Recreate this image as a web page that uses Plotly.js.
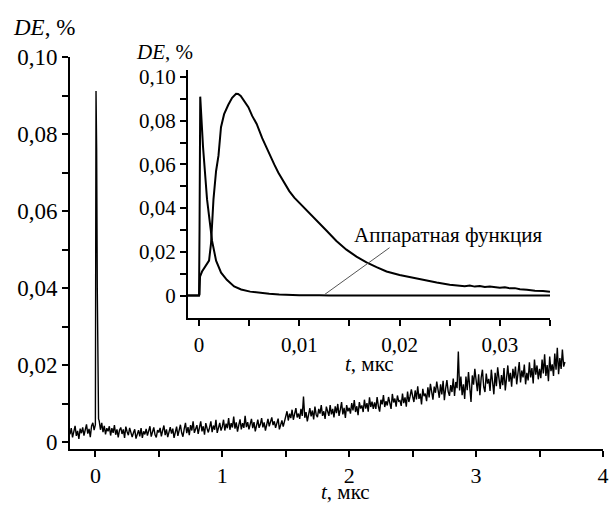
<!DOCTYPE html>
<html>
<head>
<meta charset="utf-8">
<script src="https://cdn.plot.ly/plotly-3.0.1.min.js"></script>
<style>
#chart text { font-family: 'Liberation Serif', 'Times New Roman', serif !important; }
</style>
</head>
<body style="margin:0">
<div id="chart" style="width:609px;height:505px"></div>
<script>
// ---- Main trace: DE(t), t in µs ----
const mainT = [
-0.20,-0.19,-0.18,-0.17,-0.16,-0.15,-0.14,-0.13,-0.12,-0.11,
-0.10,-0.09,-0.08,-0.07,-0.06,-0.05,-0.04,-0.03,-0.02,-0.01,
0.00,0.005,0.01,0.015,0.02,0.025,
0.03,0.04,0.05,0.06,0.07,0.08,0.09,
0.10,0.11,0.12,0.13,0.14,0.15,0.16,0.17,0.18,0.19,
0.20,0.21,0.22,0.23,0.24,0.25,0.26,0.27,0.28,0.29,
0.30,0.31,0.32,0.33,0.34,0.35,0.36,0.37,0.38,0.39,
0.40,0.41,0.42,0.43,0.44,0.45,0.46,0.47,0.48,0.49,
0.50,0.51,0.52,0.53,0.54,0.55,0.56,0.57,0.58,0.59,
0.60,0.61,0.62,0.63,0.64,0.65,0.66,0.67,0.68,0.69,
0.70,0.71,0.72,0.73,0.74,0.75,0.76,0.77,0.78,0.79,
0.80,0.81,0.82,0.83,0.84,0.85,0.86,0.87,0.88,0.89,
0.90,0.91,0.92,0.93,0.94,0.95,0.96,0.97,0.98,0.99,
1.00,1.01,1.02,1.03,1.04,1.05,1.06,1.07,1.08,1.09,
1.10,1.11,1.12,1.13,1.14,1.15,1.16,1.17,1.18,1.19,
1.20,1.21,1.22,1.23,1.24,1.25,1.26,1.27,1.28,1.29,
1.30,1.31,1.32,1.33,1.34,1.35,1.36,1.37,1.38,1.39,
1.40,1.41,1.42,1.43,1.44,1.45,1.46,1.47,1.48,1.49,
1.50,1.51,1.52,1.53,1.54,1.55,1.56,1.57,1.58,1.59,
1.60,1.61,1.62,1.63,1.64,1.65,1.66,1.67,1.68,1.69,
1.70,1.71,1.72,1.73,1.74,1.75,1.76,1.77,1.78,1.79,
1.80,1.81,1.82,1.83,1.84,1.85,1.86,1.87,1.88,1.89,
1.90,1.91,1.92,1.93,1.94,1.95,1.96,1.97,1.98,1.99,
2.00,2.01,2.02,2.03,2.04,2.05,2.06,2.07,2.08,2.09,
2.10,2.11,2.12,2.13,2.14,2.15,2.16,2.17,2.18,2.19,
2.20,2.21,2.22,2.23,2.24,2.25,2.26,2.27,2.28,2.29,
2.30,2.31,2.32,2.33,2.34,2.35,2.36,2.37,2.38,2.39,
2.40,2.41,2.42,2.43,2.44,2.45,2.46,2.47,2.48,2.49,
2.50,2.51,2.52,2.53,2.54,2.55,2.56,2.57,2.58,2.59,
2.60,2.61,2.62,2.63,2.64,2.65,2.66,2.67,2.68,2.69,
2.70,2.71,2.72,2.73,2.74,2.75,2.76,2.77,2.78,2.79,
2.80,2.81,2.82,2.83,2.84,2.85,2.86,2.87,2.88,2.89,
2.90,2.91,2.92,2.93,2.94,2.95,2.96,2.97,2.98,2.99,
3.00,3.01,3.02,3.03,3.04,3.05,3.06,3.07,3.08,3.09,
3.10,3.11,3.12,3.13,3.14,3.15,3.16,3.17,3.18,3.19,
3.20,3.21,3.22,3.23,3.24,3.25,3.26,3.27,3.28,3.29,
3.30,3.31,3.32,3.33,3.34,3.35,3.36,3.37,3.38,3.39,
3.40,3.41,3.42,3.43,3.44,3.45,3.46,3.47,3.48,3.49,
3.50,3.51,3.52,3.53,3.54,3.55,3.56,3.57,3.58,3.59,
3.60,3.61,3.62,3.63,3.64,3.65,3.66,3.67,3.68,3.69,
3.70
];
const mainDE = [
0.0020,0.0036,0.0012,0.0030,0.0042,0.0016,0.0029,0.0008,0.0035,0.0023,
0.0038,0.0017,0.0030,0.0046,0.0022,0.0034,0.0013,0.0042,0.0050,0.0031,
0.0045,0.0912,0.0760,0.0400,0.0150,0.0060,
0.0055,0.0032,0.0050,0.0026,0.0042,0.0020,0.0036,
0.0028,0.0041,0.0017,0.0036,0.0024,0.0044,0.0019,0.0033,0.0012,0.0031,
0.0038,0.0021,0.0033,0.0011,0.0040,0.0027,0.0018,0.0037,0.0025,0.0013,
0.0024,0.0033,0.0009,0.0023,0.0031,0.0015,0.0036,0.0011,0.0028,0.0020,
0.0034,0.0017,0.0029,0.0041,0.0014,0.0028,0.0038,0.0019,0.0012,0.0031,
0.0025,0.0037,0.0015,0.0030,0.0043,0.0018,0.0033,0.0013,0.0027,0.0039,
0.0022,0.0035,0.0011,0.0028,0.0040,0.0016,0.0030,0.0045,0.0024,0.0014,
0.0034,0.0050,0.0023,0.0039,0.0018,0.0044,0.0030,0.0054,0.0024,0.0035,
0.0044,0.0021,0.0038,0.0054,0.0028,0.0041,0.0019,0.0049,0.0036,0.0025,
0.0038,0.0054,0.0026,0.0043,0.0032,0.0058,0.0024,0.0041,0.0050,0.0030,
0.0040,0.0058,0.0030,0.0048,0.0036,0.0062,0.0032,0.0049,0.0038,0.0066,
0.0035,0.0051,0.0027,0.0044,0.0059,0.0033,0.0049,0.0037,0.0068,0.0039,
0.0052,0.0033,0.0045,0.0060,0.0036,0.0052,0.0028,0.0043,0.0058,0.0037,
0.0046,0.0062,0.0038,0.0051,0.0030,0.0045,0.0060,0.0041,0.0050,0.0064,
0.0044,0.0054,0.0037,0.0049,0.0061,0.0033,0.0047,0.0056,0.0040,0.0052,
0.0066,0.0080,0.0056,0.0074,0.0062,0.0084,0.0058,0.0072,0.0088,0.0064,
0.0074,0.0060,0.0086,0.0068,0.0118,0.0063,0.0078,0.0054,0.0074,0.0088,
0.0067,0.0082,0.0059,0.0092,0.0071,0.0065,0.0086,0.0074,0.0096,0.0068,
0.0080,0.0060,0.0092,0.0075,0.0068,0.0096,0.0072,0.0086,0.0064,0.0093,
0.0075,0.0099,0.0068,0.0084,0.0104,0.0072,0.0089,0.0063,0.0096,0.0080,
0.0089,0.0074,0.0101,0.0082,0.0109,0.0078,0.0093,0.0070,0.0104,0.0087,
0.0095,0.0078,0.0110,0.0087,0.0101,0.0079,0.0116,0.0091,0.0105,0.0086,
0.0103,0.0086,0.0117,0.0093,0.0079,0.0110,0.0098,0.0122,0.0091,0.0106,
0.0095,0.0117,0.0100,0.0086,0.0125,0.0103,0.0113,0.0092,0.0121,0.0106,
0.0108,0.0094,0.0126,0.0101,0.0116,0.0092,0.0131,0.0104,0.0119,0.0137,
0.0119,0.0104,0.0134,0.0111,0.0145,0.0112,0.0126,0.0098,0.0138,0.0119,
0.0126,0.0106,0.0142,0.0116,0.0151,0.0122,0.0110,0.0144,0.0128,0.0157,
0.0130,0.0115,0.0150,0.0124,0.0159,0.0109,0.0139,0.0161,0.0131,0.0120,
0.0148,0.0130,0.0165,0.0120,0.0156,0.0140,0.0235,0.0134,0.0170,0.0122,
0.0150,0.0112,0.0170,0.0135,0.0182,0.0140,0.0104,0.0173,0.0149,0.0190,
0.0154,0.0132,0.0176,0.0122,0.0167,0.0188,0.0143,0.0130,0.0178,0.0152,
0.0164,0.0133,0.0188,0.0155,0.0124,0.0180,0.0145,0.0194,0.0160,0.0138,
0.0174,0.0148,0.0192,0.0134,0.0166,0.0199,0.0157,0.0180,0.0144,0.0190,
0.0165,0.0196,0.0150,0.0181,0.0208,0.0155,0.0186,0.0168,0.0201,0.0150,
0.0180,0.0160,0.0207,0.0168,0.0192,0.0152,0.0214,0.0175,0.0199,0.0163,
0.0190,0.0166,0.0214,0.0178,0.0228,0.0172,0.0200,0.0158,0.0222,0.0184,
0.0202,0.0172,0.0230,0.0188,0.0245,0.0176,0.0218,0.0190,0.0240,0.0196,
0.0208
];

// ---- Inset: slow signal ----
const insetT1 = [-0.0011,0,0.00005,0.0001,0.0003,0.0006,0.0008,0.0010,0.0012,0.00144,0.0017,0.00194,0.00219,0.0025,0.00292,0.0033,0.00369,0.0039,0.00416,0.0045,0.00492,0.0053,0.00575,0.0063,0.00691,0.0075,0.0079,0.0085,0.0090,0.0095,0.0100,0.0108,0.0117,0.0127,0.0137,0.0147,0.0157,0.0167,0.0177,0.0187,0.0200,0.0212,0.0224,0.0237,0.0250,0.0255,0.0260,0.0265,0.0270,0.0275,0.0280,0.0285,0.0290,0.0295,0.0300,0.0305,0.0310,0.0315,0.0320,0.0327,0.0335,0.0343,0.0350];
const insetDE1 = [0,0,0.0005,0.0087,0.0110,0.0130,0.0145,0.0160,0.0240,0.0440,0.0570,0.0640,0.0770,0.0830,0.0873,0.0905,0.0923,0.0922,0.0913,0.0892,0.0862,0.0822,0.0785,0.0720,0.0655,0.0600,0.0563,0.0515,0.0478,0.0448,0.0425,0.0385,0.0348,0.0298,0.0250,0.0210,0.0178,0.0152,0.0130,0.0110,0.0094,0.0082,0.0071,0.0060,0.0050,0.0047,0.0045,0.0043,0.0046,0.0041,0.0044,0.0039,0.0041,0.0037,0.0036,0.0038,0.0033,0.0034,0.0029,0.0027,0.0022,0.0021,0.0017];

// ---- Inset: apparatus function ----
const insetT2 = [-0.0011,0,0.00005,0.0001,0.00012,0.0004,0.0008,0.0013,0.0017,0.0022,0.00277,0.0035,0.0042,0.0051,0.0060,0.0070,0.0080,0.0090,0.0100,0.0120,0.0130,0.0350];
const insetDE2 = [0,0,0.030,0.090,0.091,0.068,0.044,0.025,0.016,0.0105,0.0072,0.0042,0.0028,0.0018,0.0012,0.0008,0.0005,0.0003,0.0002,0.0001,0,0];

// ---- Ticks ----
const mainXTicks = [0,1,2,3,4];
const mainXTickText = ["0","1","2","3","4"];
const mainXMinor = [0.5,1.5,2.5,3.5];
const yTicks = [0,0.02,0.04,0.06,0.08,0.10];
const yTickText = ["0","0,02","0,04","0,06","0,08","0,10"];
const yMinor = [0.01,0.03,0.05,0.07,0.09];
const insetXTicks = [0,0.01,0.02,0.03];
const insetXTickText = ["0","0,01","0,02","0,03"];
const insetXMinor = [0.005,0.015,0.025,0.035];

const annotText = "Аппаратная функция";
const annotPoint = [0.01256, 0.0006];
const annotEnd = [0.0190, 0.0219];

const SERIF = 'Liberation Serif';
const MARG = {l:70, r:6, t:57, b:56};
const FIG_W = 609, FIG_H = 505;
const plotW = FIG_W - MARG.l - MARG.r, plotH = FIG_H - MARG.t - MARG.b;
const toPaperX = v => (v - MARG.l) / plotW;
const toPaperY = v => (FIG_H - MARG.b - v) / plotH;

function axisStyle(extra, size) {
  return Object.assign({
    showline: true, linewidth: 2, linecolor: '#000',
    ticks: 'outside', ticklen: 6, tickwidth: 2, tickcolor: '#000',
    showgrid: false, zeroline: false,
    tickmode: 'array', ticklabeloverflow: 'allow',
    tickfont: {family: SERIF, size: size, color: '#000'}
  }, extra);
}
function minorStyle(vals) {
  return {tickmode: 'array', tickvals: vals, ticks: 'outside', ticklen: 6, tickwidth: 2, tickcolor: '#000', showgrid: false};
}
function note(text, x, y, size, xanchor) {
  return {text: text, xref: 'paper', yref: 'paper', x: toPaperX(x), y: toPaperY(y),
    xanchor: xanchor, yanchor: 'middle', showarrow: false,
    font: {family: SERIF, size: size, color: '#000'}};
}

const traces = [
  {x: mainT, y: mainDE, xaxis: 'x', yaxis: 'y', mode: 'lines',
   line: {color: '#000', width: 1.4}, hoverinfo: 'skip'},
  {x: insetT1, y: insetDE1, xaxis: 'x2', yaxis: 'y2', mode: 'lines',
   line: {color: '#000', width: 2}, hoverinfo: 'skip'},
  {x: insetT2, y: insetDE2, xaxis: 'x2', yaxis: 'y2', mode: 'lines',
   line: {color: '#000', width: 2}, hoverinfo: 'skip'}
];

const layout = {
  width: FIG_W, height: FIG_H, margin: MARG,
  paper_bgcolor: '#fff', plot_bgcolor: '#fff',
  showlegend: false,
  xaxis: axisStyle({range: [-0.2, 4.0], domain: [0, 1], anchor: 'y',
    tickvals: mainXTicks, ticktext: mainXTickText, minor: minorStyle(mainXMinor)}, 22),
  yaxis: axisStyle({range: [-0.0018, 0.10], domain: [0, 1], anchor: 'x',
    tickvals: yTicks, ticktext: yTickText, minor: minorStyle(yMinor)}, 23),
  xaxis2: axisStyle({range: [-0.0011, 0.035], domain: [toPaperX(188), toPaperX(550)], anchor: 'y2',
    tickvals: insetXTicks, ticktext: insetXTickText, minor: minorStyle(insetXMinor)}, 21),
  yaxis2: axisStyle({range: [-0.0104, 0.1032], domain: [toPaperY(318.3), toPaperY(70)], anchor: 'x2',
    tickvals: yTicks, ticktext: yTickText, minor: minorStyle(yMinor)}, 21),
  shapes: [
    {type: 'line', xref: 'x2', yref: 'y2', x0: annotPoint[0], y0: annotPoint[1], x1: annotEnd[0], y1: annotEnd[1],
     line: {color: '#555', width: 1}}
  ],
  annotations: [
    note('<i>DE</i>, %', 11, 28, 23, 'left'),
    note('<i>DE</i>, %', 134, 52, 21, 'left'),
    note('<i>t</i>, мкс', 345, 492, 21, 'center'),
    note('<i>t</i>, мкс', 369, 364, 21, 'center'),
    note(annotText, 447.5, 235, 21, 'center')
  ]
};

Plotly.newPlot('chart', traces, layout, {displayModeBar: false});
</script>
</body>
</html>
